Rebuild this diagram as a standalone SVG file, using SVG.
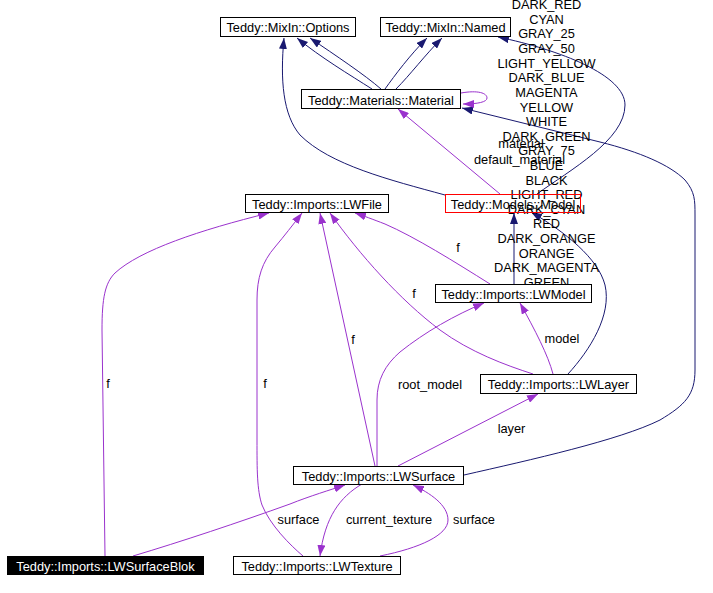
<svg xmlns="http://www.w3.org/2000/svg" width="713" height="593" viewBox="0 0 713 593">
<style>
text{font-family:"Liberation Sans",Arial,Helvetica,sans-serif;font-size:12.8px;fill:#000;text-anchor:middle}
.n rect{fill:#fff;stroke:#000;stroke-width:1}
.b{fill:none;stroke:#191970;stroke-width:1;marker-end:url(#ab)}
.p{fill:none;stroke:#9a32cd;stroke-width:1;marker-end:url(#ap)}
</style>
<defs>
<marker id="ab" markerUnits="userSpaceOnUse" markerWidth="11" markerHeight="8" viewBox="0 0 11 8" refX="11" refY="4" orient="auto"><path d="M0,0 L11,4 L0,8 z" fill="#191970"/></marker>
<marker id="ap" markerUnits="userSpaceOnUse" markerWidth="11" markerHeight="8" viewBox="0 0 11 8" refX="11" refY="4" orient="auto"><path d="M0,0 L11,4 L0,8 z" fill="#9a32cd"/></marker>
</defs>
<rect width="713" height="593" fill="#fff"/>
<g id="connectors">
<path class="b" d="M372,89 C350,75 320,57 297,38"/>
<path class="b" d="M381,89 C365,75 335,55 310,38"/>
<path class="b" d="M385,89 C395,75 410,55 427,38"/>
<path class="b" d="M396,89 C410,75 425,55 442,38"/>
<path class="b" d="M445,195 C390,180 330,165 300,135 C283,115 280,80 284,38"/>
<path class="b" d="M537,194 C570,170 625,140 625,105 C625,75 560,50 498,37"/>
<path class="b" d="M464,475 C530,460 620,440 660,420 C685,405 695,395 695,370 L695,215 C695,200 695,192 685,180 C670,165 640,152 600,142 L462,108"/>
<path class="b" d="M514,284 L514,213"/>
<path class="b" d="M568,374 C590,350 612,315 605,285 C598,258 565,232 531,212"/>
<path class="p" d="M461,93 C478,90 487,93 487,98 C487,102 478,104 463,104"/>
<path class="p" d="M500,194 L398,109"/>
<path class="p" d="M105,556 L102,330 C102,298 105,283 115,273 C140,250 200,230 269,213"/>
<path class="p" d="M303,556 C290,545 270,525 262,505 C257,490 257,470 257,440 L257,300 C257,278 262,262 275,247 C285,235 292,226 302,213"/>
<path class="p" d="M375,466 L320,213"/>
<path class="p" d="M533,374 C505,365 470,352 440,330 C400,300 360,255 330,213"/>
<path class="p" d="M490,284 C455,262 415,237 385,224 C372,219 364,216 355,213"/>
<path class="p" d="M377,466 L377,400 C377,380 385,365 400,352 C425,332 455,315 484,303"/>
<path class="p" d="M553,374 C548,355 535,330 520,303"/>
<path class="p" d="M398,466 L538,394"/>
<path class="p" d="M133,556 C180,542 240,522 290,504 C310,496 330,490 345,485"/>
<path class="p" d="M362,484 C340,497 325,517 320,556"/>
<path class="p" d="M380,556 C420,548 448,535 448,520 C448,505 430,493 413,485"/>
</g>
<g id="edge-labels">
<text x="546.5" y="9">DARK_RED</text>
<text x="546.5" y="24">CYAN</text>
<text x="546.5" y="38">GRAY_25</text>
<text x="546.5" y="53">GRAY_50</text>
<text x="546.5" y="68">LIGHT_YELLOW</text>
<text x="546.5" y="82">DARK_BLUE</text>
<text x="546.5" y="97">MAGENTA</text>
<text x="546.5" y="112">YELLOW</text>
<text x="546.5" y="126">WHITE</text>
<text x="546.5" y="141">DARK_GREEN</text>
<text x="546.5" y="155">GRAY_75</text>
<text x="546.5" y="170">BLUE</text>
<text x="546.5" y="185">BLACK</text>
<text x="546.5" y="199">LIGHT_RED</text>
<text x="546.5" y="214">DARK_CYAN</text>
<text x="546.5" y="228">RED</text>
<text x="546.5" y="243">DARK_ORANGE</text>
<text x="546.5" y="258">ORANGE</text>
<text x="546.5" y="272">DARK_MAGENTA</text>
<text x="546.5" y="287">GREEN</text>
<text x="521" y="148">material</text>
<text x="519.5" y="164">default_material</text>
<text x="108" y="388">f</text>
<text x="265" y="388">f</text>
<text x="353" y="344">f</text>
<text x="414" y="298">f</text>
<text x="458" y="252">f</text>
<text x="562" y="343">model</text>
<text x="430" y="389">root_model</text>
<text x="511.5" y="433">layer</text>
<text x="298.5" y="524">surface</text>
<text x="389" y="524">current_texture</text>
<text x="474" y="524">surface</text>
</g>
<g id="options" class="n"><rect x="220.5" y="17.5" width="135" height="19"/><text x="288" y="32">Teddy::MixIn::Options</text></g>
<g id="named" class="n"><rect x="380.5" y="17.5" width="130" height="19"/><text x="445.5" y="32">Teddy::MixIn::Named</text></g>
<g id="material" class="n"><rect x="301.5" y="89.5" width="159" height="19"/><text x="381" y="104.5">Teddy::Materials::Material</text></g>
<g id="model" class="n"><rect x="445.5" y="194.5" width="135" height="18" style="stroke:#ff0000;fill:none"/><text x="513" y="209">Teddy::Models::Model</text></g>
<g id="lwfile" class="n"><rect x="245.5" y="194.5" width="143" height="18"/><text x="317" y="209">Teddy::Imports::LWFile</text></g>
<g id="lwmodel" class="n"><rect x="435.5" y="284.5" width="156" height="18"/><text x="513.5" y="299">Teddy::Imports::LWModel</text></g>
<g id="lwlayer" class="n"><rect x="480.5" y="374.5" width="156" height="19"/><text x="558.5" y="389">Teddy::Imports::LWLayer</text></g>
<g id="lwsurface" class="n"><rect x="293.5" y="466.5" width="170" height="18"/><text x="378.5" y="481">Teddy::Imports::LWSurface</text></g>
<g id="lwsurfaceblok" class="n"><rect x="7.5" y="556.5" width="196" height="18" style="fill:#000"/><text x="105.5" y="571" style="fill:#fff">Teddy::Imports::LWSurfaceBlok</text></g>
<g id="lwtexture" class="n"><rect x="233.5" y="556.5" width="167" height="18"/><text x="317" y="571">Teddy::Imports::LWTexture</text></g>
</svg>
